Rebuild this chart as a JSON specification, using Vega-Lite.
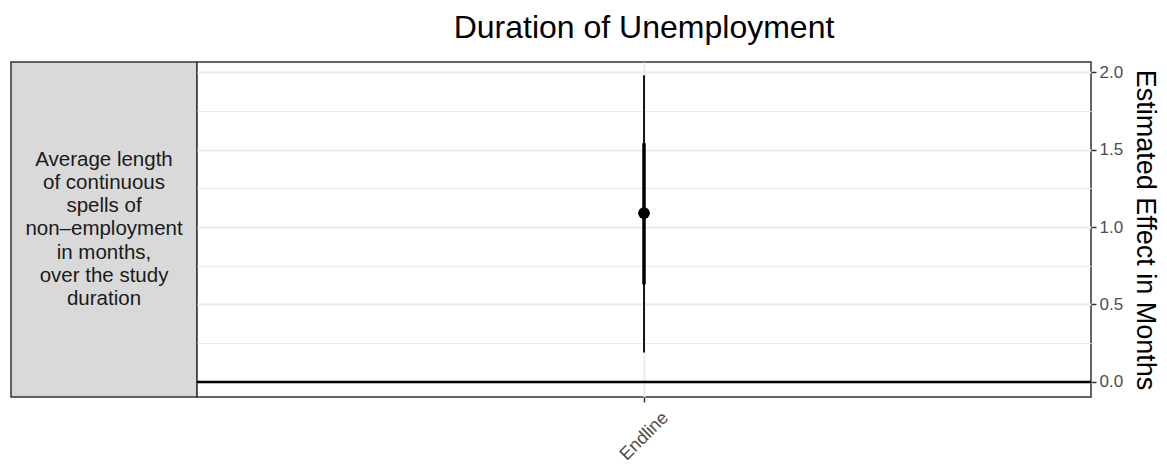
{
  "$schema": "https://vega.github.io/schema/vega-lite/v6.json",
  "background": "white",
  "padding": {"left": 10, "top": 11, "right": 0, "bottom": 0},
  "autosize": {"type": "pad"},
  "config": {"font": "Liberation Sans", "view": {"stroke": null}},
  "spacing": 0,
  "bounds": "flush",
  "hconcat": [
    {
      "width": 186,
      "height": 335,
      "view": {"fill": "#d9d9d9", "stroke": "#333333", "strokeWidth": 1.5},
      "data": {"values": [{"label": "Average length\nof continuous\nspells of\nnon–employment\nin months,\nover the study\nduration"}]},
      "mark": {"type": "text", "lineBreak": "\n", "fontSize": 20.5, "lineHeight": 23.2, "color": "#1a1a1a", "align": "center", "baseline": "middle", "dy": -69.6},
      "encoding": {"text": {"field": "label", "type": "nominal"}}
    },
    {
      "width": 894,
      "height": 335,
      "title": {"text": "Duration of Unemployment", "fontSize": 32, "fontWeight": "normal", "color": "black", "anchor": "middle", "offset": 17},
      "view": {"fill": "white", "stroke": "#333333", "strokeWidth": 1.5},
      "data": {"values": [{"wave": "Endline", "est": 1.09, "lo90": 0.63, "hi90": 1.54, "lo95": 0.19, "hi95": 1.98}]},
      "layer": [
        {
          "mark": {"type": "rule", "color": "black", "strokeWidth": 2.5},
          "encoding": {
            "y": {"datum": 0, "type": "quantitative", "scale": {"domain": [-0.097, 2.065], "nice": false, "zero": false},
              "axis": {"orient": "right", "title": "Estimated Effect in Months", "grid": true, "values": [0, 0.25, 0.5, 0.75, 1, 1.25, 1.5, 1.75, 2], "labelExpr": "datum.value % 0.5 === 0 ? format(datum.value, '.1f') : ''", "tickOpacity": {"condition": {"test": "datum.value % 0.5 !== 0", "value": 0}, "value": 1}, "gridWidth": {"condition": {"test": "datum.value % 0.5 !== 0", "value": 1}, "value": 2}, "gridColor": "#ebebeb", "domain": false, "tickColor": "#333333", "tickWidth": 1.5, "tickSize": 5, "labelFontSize": 17, "labelColor": "#4d4d4d", "labelPadding": 3, "titleFontSize": 27, "titleFontWeight": "normal", "titleColor": "black", "titlePadding": 8}}
          }
        },
        {
          "mark": {"type": "rule", "color": "black", "strokeWidth": 1.8},
          "encoding": {
            "x": {"field": "wave", "type": "nominal", "scale": {"type": "point", "padding": 0.5},
              "axis": {"title": null, "labelAngle": -45, "labelAlign": "center", "labelBaseline": "middle", "labelPadding": 34, "labelFontSize": 18, "labelColor": "#4d4d4d", "tickColor": "#333333", "tickWidth": 1.5, "tickSize": 5, "domain": false, "grid": true, "gridColor": "#ebebeb", "gridWidth": 2}},
            "y": {"field": "lo95", "type": "quantitative", "scale": {"domain": [-0.097, 2.065], "nice": false, "zero": false},
              "axis": {"orient": "right", "title": "Estimated Effect in Months", "grid": true, "values": [0, 0.25, 0.5, 0.75, 1, 1.25, 1.5, 1.75, 2], "labelExpr": "datum.value % 0.5 === 0 ? format(datum.value, '.1f') : ''", "tickOpacity": {"condition": {"test": "datum.value % 0.5 !== 0", "value": 0}, "value": 1}, "gridWidth": {"condition": {"test": "datum.value % 0.5 !== 0", "value": 1}, "value": 2}, "gridColor": "#ebebeb", "domain": false, "tickColor": "#333333", "tickWidth": 1.5, "tickSize": 5, "labelFontSize": 17, "labelColor": "#4d4d4d", "labelPadding": 3, "titleFontSize": 27, "titleFontWeight": "normal", "titleColor": "black", "titlePadding": 8}},
            "y2": {"field": "hi95"}
          }
        },
        {
          "mark": {"type": "rule", "color": "black", "strokeWidth": 3.5},
          "encoding": {
            "x": {"field": "wave", "type": "nominal"},
            "y": {"field": "lo90", "type": "quantitative"},
            "y2": {"field": "hi90"}
          }
        },
        {
          "mark": {"type": "point", "filled": true, "color": "black", "opacity": 1, "size": 140},
          "encoding": {
            "x": {"field": "wave", "type": "nominal"},
            "y": {"field": "est", "type": "quantitative"}
          }
        }
      ]
    }
  ]
}
